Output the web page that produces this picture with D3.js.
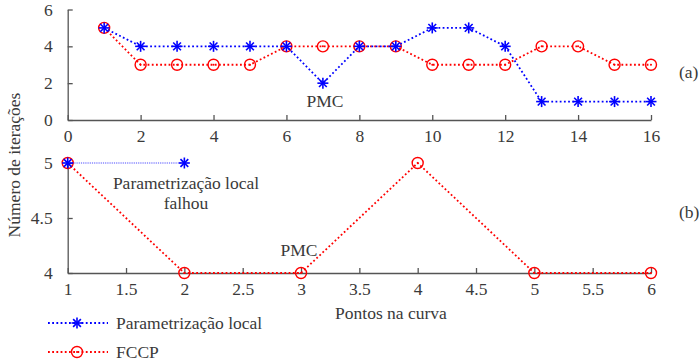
<!DOCTYPE html>
<html>
<head>
<meta charset="utf-8">
<script src="https://cdn.jsdelivr.net/npm/d3@7/dist/d3.min.js"></script>
</head>
<body style="margin:0">
<svg id="chart" width="700" height="364"></svg>
<script>
// Panel (a): iterations per curve point, 16 points
const pointsA = [1, 2, 3, 4, 5, 6, 7, 8, 9, 10, 11, 12, 13, 14, 15, 16];
const localA  = [5, 4, 4, 4, 4, 4, 2, 4, 4, 5, 5, 4, 1, 1, 1, 1];
const fccpA   = [5, 3, 3, 3, 3, 4, 4, 4, 4, 3, 3, 3, 4, 4, 3, 3];
const xTicksA = [0, 2, 4, 6, 8, 10, 12, 14, 16];
const yTicksA = [0, 2, 4, 6];

// Panel (b): local parametrization fails after point 2
const pointsLocalB = [1, 2];
const localB       = [5, 5];
const pointsB = [1, 2, 3, 4, 5, 6];
const fccpB   = [5, 4, 4, 5, 4, 4];
const xTicksB = [1, 1.5, 2, 2.5, 3, 3.5, 4, 4.5, 5, 5.5, 6];
const yTicksB = [4, 4.5, 5];

const seriesNames = ["Parametrização local", "FCCP"];
const BLUE = "#0000ff", RED = "#ff0000", AXIS = "#555", INK = "#3a3a3a";
const FONT = "'Liberation Serif'";
const FS = "17.5px";

const svg = d3.select("#chart");

const xA = d3.scaleLinear().domain([0, 16]).range([67.7, 651]);
const yA = d3.scaleLinear().domain([0, 6]).range([120, 9.5]);
const xB = d3.scaleLinear().domain([1, 6]).range([67.7, 651]);
const yB = d3.scaleLinear().domain([4, 5]).range([273, 163]);

function styleAxis(g) {
  g.attr("font-family", null).attr("font-size", null);
  g.selectAll("path.domain").attr("stroke", AXIS).attr("stroke-width", 1.3);
  g.selectAll(".tick line").attr("stroke", AXIS).attr("stroke-width", 1.3);
  g.selectAll(".tick text").attr("fill", INK)
    .style("font-family", FONT).style("font-size", FS);
}

function drawAxes(x, y, xTicks, yTicks) {
  svg.append("g")
    .attr("transform", `translate(0,${y.range()[0]})`)
    .call(d3.axisBottom(x).tickValues(xTicks).tickSize(-5).tickSizeOuter(0).tickPadding(10).tickFormat(d3.format("")))
    .call(styleAxis);
  svg.append("g")
    .attr("transform", `translate(${x.range()[0]},0)`)
    .call(d3.axisLeft(y).tickValues(yTicks).tickSize(-5).tickSizeOuter(0).tickPadding(15).tickFormat(d3.format("")))
    .call(styleAxis);
}

drawAxes(xA, yA, xTicksA, yTicksA);
drawAxes(xB, yB, xTicksB, yTicksB);

function drawLine(xs, ys, x, y, color, width, dash, opacity) {
  const data = xs.map((v, i) => [v, ys[i]]);
  svg.append("path")
    .datum(data)
    .attr("fill", "none")
    .attr("stroke", color)
    .attr("stroke-width", width)
    .attr("stroke-dasharray", dash)
    .attr("opacity", opacity)
    .attr("d", d3.line().x(d => x(d[0])).y(d => y(d[1])));
  return data;
}

function star(g, cx, cy, r, color) {
  [0, 45, 90, 135].forEach(a => {
    const rad = a * Math.PI / 180;
    g.append("line")
      .attr("x1", cx - r * Math.cos(rad)).attr("y1", cy - r * Math.sin(rad))
      .attr("x2", cx + r * Math.cos(rad)).attr("y2", cy + r * Math.sin(rad))
      .attr("stroke", color).attr("stroke-width", 1.6);
  });
}

function ring(g, cx, cy, r, color) {
  g.append("circle").attr("cx", cx).attr("cy", cy).attr("r", r)
    .attr("fill", "none").attr("stroke", color).attr("stroke-width", 1.4);
  g.append("circle").attr("cx", cx).attr("cy", cy).attr("r", 1)
    .attr("fill", color);
}

function drawSeries(xs, ys, x, y, kind, opts = {}) {
  const color = kind === "star" ? BLUE : RED;
  const data = drawLine(xs, ys, x, y, color, opts.width || 1.8, opts.dash || "1.8,2.4", opts.opacity || 1);
  const g = svg.append("g");
  data.forEach(d => {
    if (kind === "star") star(g, x(d[0]), y(d[1]), 5.5, color);
    else ring(g, x(d[0]), y(d[1]), 5.5, color);
  });
}

// Panel (a)
drawSeries(pointsA, fccpA, xA, yA, "ring");
drawSeries(pointsA, localA, xA, yA, "star");

// Panel (b)
drawSeries(pointsB, fccpB, xB, yB, "ring");
drawSeries(pointsLocalB, localB, xB, yB, "star", { width: 1.2, dash: "1.2,1", opacity: 0.7 });

// Annotations
function label(txt, x, y, anchor = "middle") {
  svg.append("text").attr("x", x).attr("y", y).attr("text-anchor", anchor)
    .attr("dominant-baseline", "central").attr("fill", INK)
    .style("font-family", FONT).style("font-size", FS).text(txt);
}
label("PMC", 325, 101);
label("(a)", 679, 72, "start");
label("Parametrização local", 186, 183);
label("falhou", 186, 203);
label("PMC", 299, 250);
label("(b)", 679, 212, "start");
label("Pontos na curva", 391, 313);

svg.append("text")
  .attr("transform", "translate(14,165) rotate(-90)")
  .attr("text-anchor", "middle").attr("dominant-baseline", "central")
  .attr("fill", INK).style("font-family", FONT).style("font-size", FS)
  .text("Número de iterações");

// Legend
const legendRows = [
  { name: seriesNames[0], kind: "star", y: 323 },
  { name: seriesNames[1], kind: "ring", y: 352 }
];
legendRows.forEach(r => {
  const color = r.kind === "star" ? BLUE : RED;
  const g = svg.append("g");
  g.append("line").attr("x1", 48).attr("x2", 108).attr("y1", r.y).attr("y2", r.y)
    .attr("stroke", color).attr("stroke-width", 1.8).attr("stroke-dasharray", "1.8,2.4");
  if (r.kind === "star") star(g, 77, r.y, 5.5, color);
  else ring(g, 77, r.y, 5.5, color);
  label(r.name, 116, r.y, "start");
});
</script>
</body>
</html>
